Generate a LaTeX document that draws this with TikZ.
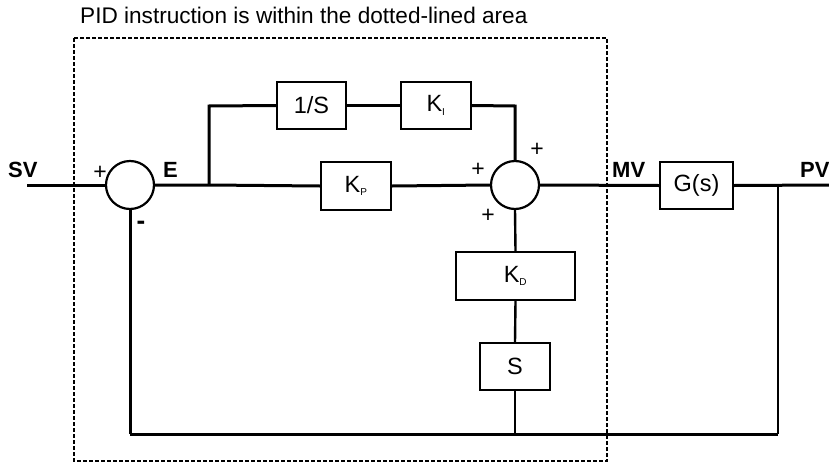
\documentclass[tikz,border=0pt]{standalone}
\usepackage{fontspec}
\setmainfont{Liberation Sans}
\begin{document}
\begin{tikzpicture}[x=1pt,y=-1pt,
  blk/.style={draw,line width=2.2pt,inner sep=0pt,font=\fontsize{23.5}{26}\selectfont},
  sumc/.style={draw,circle,line width=2.2pt,minimum size=48pt,inner sep=0pt},
  wire/.style={line width=3pt},
  thinwire/.style={line width=2.4pt},
  sig/.style={font=\bfseries\fontsize{22}{24}\selectfont,anchor=base west,inner sep=0pt},
  sgn/.style={font=\fontsize{23}{24}\selectfont,inner sep=0pt},
  dotbox/.style={line width=2.6pt,dash pattern=on 4pt off 2pt}
]
\useasboundingbox (0,0) rectangle (829,463);
% title
\node[anchor=base west,inner sep=0pt,font=\fontsize{22.6}{25}\selectfont] (title) at (80,23) {PID instruction is within the dotted-lined area};
% dotted area
\draw[dotbox] (74,38) rectangle (607,461);
% nodes
\node[sumc] (s1) at (130,185) {};
\node[sumc] (s2) at (515,185) {};
\node[blk,minimum width=69pt,minimum height=47pt] (inv) at (311.5,105.5) {1/S};
\node[blk,minimum width=70pt,minimum height=47pt] (ki) at (436,105.5) {K\textsubscript{\fontsize{10}{10}\selectfont I}};
\node[blk,minimum width=70pt,minimum height=48pt] (kp) at (356,186) {K\textsubscript{\fontsize{10}{10}\selectfont P}};
\node[blk,minimum width=73pt,minimum height=47pt] (g) at (696.5,185.5) {G(s)};
\node[blk,minimum width=119pt,minimum height=48pt] (kd) at (515.5,276) {K\textsubscript{\fontsize{10}{10}\selectfont D}};
\node[blk,minimum width=70pt,minimum height=47pt] (sd) at (515,366.5) {S};
% coordinates
\coordinate (svin) at (27,185);
\coordinate (br) at (209,185);
\coordinate (brtop) at (209,106);
\coordinate (kitop) at (515,106);
\coordinate (pvout) at (829,185);
\coordinate (tap) at (778,185);
\coordinate (fbr) at (778,434);
\coordinate (fbl) at (130,434);
\coordinate (fbm) at (515,434);
% wires
\draw[wire] (svin) -- (s1.west);
\draw[wire] (s1.east) -- (br) -- (kp.west);
\draw[wire] (kp.east) -- (s2.west);
\draw[wire] (br) -- (brtop) -- (inv.west);
\draw[wire] (inv.east) -- (ki.west);
\draw[wire] (ki.east) -- (kitop) -- (s2.north);
\draw[wire] (s2.east) -- (g.west);
\draw[wire] (g.east) -- (pvout);
\draw[thinwire] (tap) -- (fbr);
\draw[wire] (fbr) -- (fbl);
\draw[wire] (fbl) -- (s1.south);
\draw[thinwire] (s2.south) -- (kd.north);
\draw[thinwire] (kd.south) -- (sd.north);
\draw[thinwire] (sd.south) -- (fbm);
% labels
\node[sig] (svl) at (8,177) {SV};
\node[sig] (el) at (163,177) {E};
\node[sig] (mvl) at (612,177) {MV};
\node[sig] (pvl) at (800,177) {PV};
\node[sgn] (p1) at (100,173) {+};
\node[sgn,font=\bfseries\fontsize{26}{26}\selectfont] (m1) at (141,225) {-};
\node[sgn] (p2) at (478,170) {+};
\node[sgn] (p3) at (537,150) {+};
\node[sgn] (p4) at (488,216) {+};
\end{tikzpicture}
\end{document}
